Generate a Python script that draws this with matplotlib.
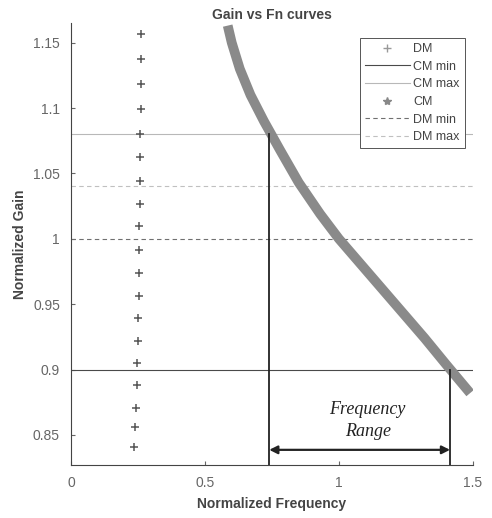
import matplotlib.pyplot as plt
from matplotlib.lines import Line2D

plt.rcParams['font.family'] = ['Liberation Sans', 'DejaVu Sans']

# DM points (vertical column of '+')
dm_x = [0.262, 0.262, 0.261, 0.260, 0.259, 0.258, 0.257, 0.256, 0.255, 0.254,
        0.253, 0.252, 0.250, 0.249, 0.247, 0.245, 0.243, 0.240, 0.237]
dm_y = [1.1564, 1.1372, 1.1181, 1.0995, 1.0803, 1.0627, 1.0440, 1.0267, 1.0096, 0.9917,
        0.9739, 0.9565, 0.9394, 0.9220, 0.9050, 0.8878, 0.8705, 0.8560, 0.8407]

# CM gain curve (drawn as a dense band)
cm_x = [0.585, 0.60, 0.63, 0.67, 0.72, 0.78, 0.85, 0.93, 1.00, 1.08,
        1.16, 1.24, 1.32, 1.40, 1.49]
cm_y = [1.163, 1.150, 1.130, 1.110, 1.090, 1.068, 1.043, 1.019, 1.000, 0.981,
        0.962, 0.943, 0.924, 0.904, 0.882]

cm_min, cm_max = 0.90, 1.08
dm_min, dm_max = 1.00, 1.04

f_low, f_high = 0.74, 1.415
arrow_y = 0.8386

fig = plt.figure(figsize=(4.92, 5.18), dpi=100)
ax = fig.add_axes([0.1443, 0.1023, 0.8167, 0.8533])

ax.axhline(cm_min, color='#4a4a4a', lw=0.8, ls='-')
ax.axhline(cm_max, color='#b8b8b8', lw=0.8, ls='-')
ax.axhline(dm_min, color='#707070', lw=0.8, ls=(0, (4, 3)))
ax.axhline(dm_max, color='#c0c0c0', lw=0.8, ls=(0, (4, 3)))

ax.plot(cm_x, cm_y, color='#8a8a8a', lw=7, solid_capstyle='butt', solid_joinstyle='round')
ax.plot(dm_x, dm_y, ls='none', marker='+', ms=6, mew=1.1, color='#555555')

ax.plot([f_low, f_low], [0.827, cm_max], color='#222222', lw=1.3)
ax.plot([f_high, f_high], [0.827, cm_min], color='#222222', lw=1.3)
ax.annotate('', xy=(f_low, arrow_y), xytext=(f_high, arrow_y),
            arrowprops=dict(arrowstyle='<|-|>', color='#222222', lw=1.6,
                            mutation_scale=12, shrinkA=0, shrinkB=0))
ax.text((f_low + f_high) / 2 + 0.03, 0.861, 'Frequency\nRange', ha='center', va='center',
        fontsize=13, style='italic', family=['Liberation Serif', 'DejaVu Serif'],
        color='#222222', linespacing=1.45)

ax.set_xlim(0, 1.5)
ax.set_ylim(0.827, 1.165)
ax.set_xticks([0, 0.5, 1, 1.5])
ax.set_xticklabels(['0', '0.5', '1', '1.5'])
ax.set_yticks([0.85, 0.9, 0.95, 1, 1.05, 1.1, 1.15])
ax.set_yticklabels(['0.85', '0.9', '0.95', '1', '1.05', '1.1', '1.15'])
ax.tick_params(direction='in', length=3, labelsize=10, colors='#666666', pad=8)
for side in ['top', 'right']:
    ax.spines[side].set_visible(False)
for side in ['left', 'bottom']:
    ax.spines[side].set_color('#444444')
    ax.spines[side].set_linewidth(0.8)

ax.set_title('Gain vs Fn curves', fontsize=10, fontweight='bold', color='#444444', pad=3)
ax.set_xlabel('Normalized Frequency', fontsize=10, fontweight='bold', color='#444444', labelpad=5)
ax.set_ylabel('Normalized Gain', fontsize=10, fontweight='bold', color='#444444', labelpad=4)

handles = [
    Line2D([], [], ls='none', marker='+', ms=6, color='#999999'),
    Line2D([], [], ls='-', lw=0.8, color='#4a4a4a'),
    Line2D([], [], ls='-', lw=0.8, color='#b8b8b8'),
    Line2D([], [], ls='none', marker='*', ms=6, color='#888888'),
    Line2D([], [], ls=(0, (4, 3)), lw=0.8, color='#707070'),
    Line2D([], [], ls=(0, (4, 3)), lw=0.8, color='#c0c0c0'),
]
labels = ['DM', 'CM min', 'CM max', 'CM', 'DM min', 'DM max']
leg = ax.legend(handles, labels, loc='upper right', bbox_to_anchor=(0.98, 0.966),
                fontsize=9, handlelength=3.6, labelspacing=0.45, handletextpad=0.3,
                borderpad=0.4, fancybox=False, framealpha=1, borderaxespad=0)
leg.get_frame().set_edgecolor('#555555')
leg.get_frame().set_linewidth(0.7)
for t in leg.get_texts():
    t.set_color('#444444')

fig.savefig('out.png', dpi=100)
